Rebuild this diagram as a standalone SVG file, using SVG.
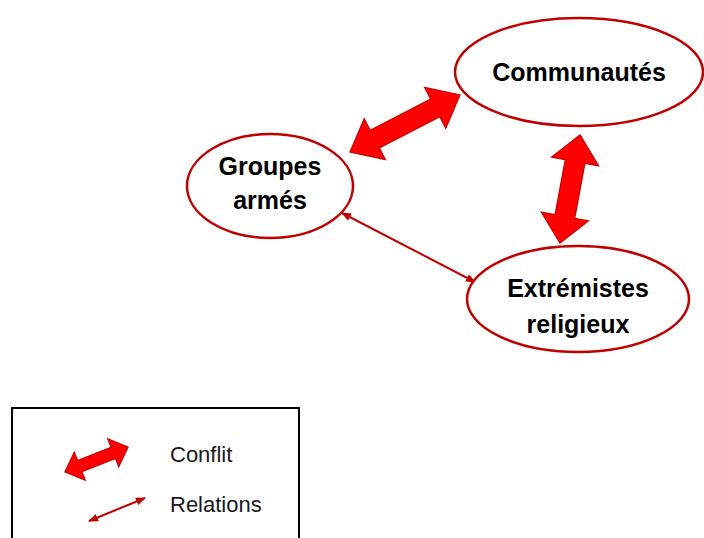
<svg xmlns="http://www.w3.org/2000/svg" width="704" height="538" viewBox="0 0 704 538">
<defs>
<style>
.node ellipse{fill:#fff;stroke:#c00000;stroke-width:2.5}
.lbl{font-family:"Liberation Sans",Arial,sans-serif;font-weight:bold;font-size:25px;fill:#000;text-anchor:middle}
.leg{font-family:"Liberation Sans",Arial,sans-serif;font-size:22px;fill:#1a1a1a}
.fat{fill:#ff0000;stroke:#c80000;stroke-width:1.2;stroke-linejoin:miter}
.thin{stroke:#c00000;stroke-width:2;fill:none}
</style>
<marker id="ah" viewBox="0 0 10 10" refX="9" refY="5" markerWidth="5" markerHeight="5" orient="auto-start-reverse" markerUnits="strokeWidth">
<path d="M0,1 L10,5 L0,9 Z" fill="#c00000"/>
</marker>
</defs>
<rect width="704" height="538" fill="#fff"/>
<g id="connectors">
<polygon class="fat" transform="translate(405,123.5) rotate(-27.4)" points="-62,0 -34,-23 -34,-10 34,-10 34,-23 62,0 34,23 34,10 -34,10 -34,23"/>
<polygon class="fat" transform="translate(570,189) rotate(100.5)" points="-55,0 -28,-24 -28,-10 28,-10 28,-24 55,0 28,24 28,10 -28,10 -28,24"/>
<line class="thin" x1="342" y1="213" x2="475" y2="282" marker-start="url(#ah)" marker-end="url(#ah)"/>
</g>
<g id="communautes" class="node">
<ellipse cx="579" cy="72" rx="124" ry="54"/>
<text class="lbl" x="579" y="81">Communautés</text>
</g>
<g id="groupes-armes" class="node">
<ellipse cx="270" cy="186" rx="83" ry="52"/>
<text class="lbl" x="270" y="175">Groupes</text>
<text class="lbl" x="270" y="209">armés</text>
</g>
<g id="extremistes" class="node">
<ellipse cx="578" cy="299" rx="111" ry="53"/>
<text class="lbl" x="578" y="297">Extrémistes</text>
<text class="lbl" x="578" y="333">religieux</text>
</g>
<g id="legend">
<rect x="12" y="408" width="287" height="145" fill="none" stroke="#000" stroke-width="2"/>
<polygon class="fat" transform="translate(96.5,459.5) rotate(-21.6)" points="-34,0 -18,-15 -18,-6 18,-6 18,-15 34,0 18,15 18,6 -18,6 -18,15"/>
<text class="leg" x="170" y="462">Conflit</text>
<line class="thin" x1="89" y1="521" x2="145" y2="498" marker-start="url(#ah)" marker-end="url(#ah)"/>
<text class="leg" x="170" y="512">Relations</text>
</g>
</svg>
